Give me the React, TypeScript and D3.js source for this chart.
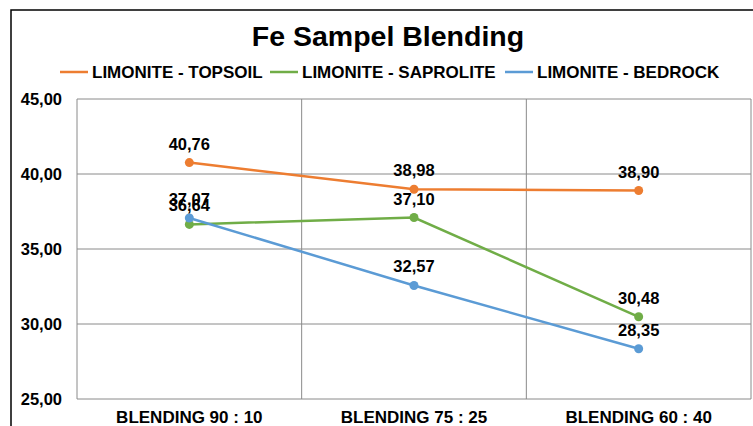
import React from "react";
import * as d3 from "d3";

const categories = ["BLENDING 90 : 10", "BLENDING 75 : 25", "BLENDING 60 : 40"];
const seriesNames = ["LIMONITE - TOPSOIL", "LIMONITE - SAPROLITE", "LIMONITE - BEDROCK"];
const topsoil = [40.76, 38.98, 38.9];
const saprolite = [36.64, 37.1, 30.48];
const bedrock = [37.07, 32.57, 28.35];
const yTicks = [25, 30, 35, 40, 45];
const colors = ["#ED7D31", "#70AD47", "#5B9BD5"];

const W = 753;
const H = 426;
const plot = { left: 77, right: 751, top: 99, bottom: 399 };
const FONT = "'Liberation Sans', Arial, sans-serif";

const fmt = (v: number) => v.toFixed(2).replace(".", ",");

export default function App() {
  const x = d3.scaleBand<string>().domain(categories).range([plot.left, plot.right]);
  const y = d3.scaleLinear().domain([25, 45]).range([plot.bottom, plot.top]);
  const series = [topsoil, saprolite, bedrock];
  const cx = (i: number) => (x(categories[i]) as number) + x.bandwidth() / 2;
  const line = d3
    .line<number>()
    .x((_, i) => cx(i))
    .y((d) => y(d));
  const legendX = [60, 270, 505];
  const grid = "#8a8a8a";

  return (
    <svg
      width={W}
      height={H}
      style={{ position: "absolute", left: 0, top: 0, background: "#fff" }}
      fontFamily={FONT}
    >
      <rect x={0} y={0} width={W} height={H} fill="#fff" />
      <rect x={11} y={10} width={W + 20} height={H + 20} fill="none" stroke="#000" strokeWidth={1.5} />
      <text x={388} y={46} textAnchor="middle" fontSize={28.5} fontWeight="bold" fill="#000">
        Fe Sampel Blending
      </text>
      {seriesNames.map((n, i) => (
        <g key={n}>
          <line x1={legendX[i]} x2={legendX[i] + 28} y1={72} y2={72} stroke={colors[i]} strokeWidth={2.5} />
          <text x={legendX[i] + 32} y={78} fontSize={17} fontWeight="bold" fill="#000">
            {n}
          </text>
        </g>
      ))}
      {yTicks.map((t) => (
        <g key={t}>
          <line x1={plot.left} x2={plot.right} y1={y(t)} y2={y(t)} stroke={grid} strokeWidth={1} />
          <text x={62} y={y(t)} dy="0.35em" textAnchor="end" fontSize={16.5} fontWeight="bold" fill="#000">
            {fmt(t)}
          </text>
        </g>
      ))}
      {categories.map((c, i) => (
        <g key={c}>
          <line
            x1={x(c) as number}
            x2={x(c) as number}
            y1={plot.top}
            y2={plot.bottom}
            stroke={grid}
            strokeWidth={1}
          />
          <text x={cx(i)} y={423} textAnchor="middle" fontSize={17} fontWeight="bold" fill="#000">
            {c}
          </text>
        </g>
      ))}
      <line x1={plot.right} x2={plot.right} y1={plot.top} y2={plot.bottom} stroke={grid} strokeWidth={1} />
      {series.map((s, si) => (
        <g key={si}>
          <path d={line(s) || ""} fill="none" stroke={colors[si]} strokeWidth={2.5} />
          {s.map((v, i) => (
            <circle key={i} cx={cx(i)} cy={y(v)} r={4.5} fill={colors[si]} />
          ))}
        </g>
      ))}
      {series.map((s, si) =>
        s.map((v, i) => (
          <text
            key={`${si}-${i}`}
            x={cx(i)}
            y={y(v) - 13}
            textAnchor="middle"
            fontSize={16.5}
            fontWeight="bold"
            fill="#000"
          >
            {fmt(v)}
          </text>
        ))
      )}
    </svg>
  );
}
